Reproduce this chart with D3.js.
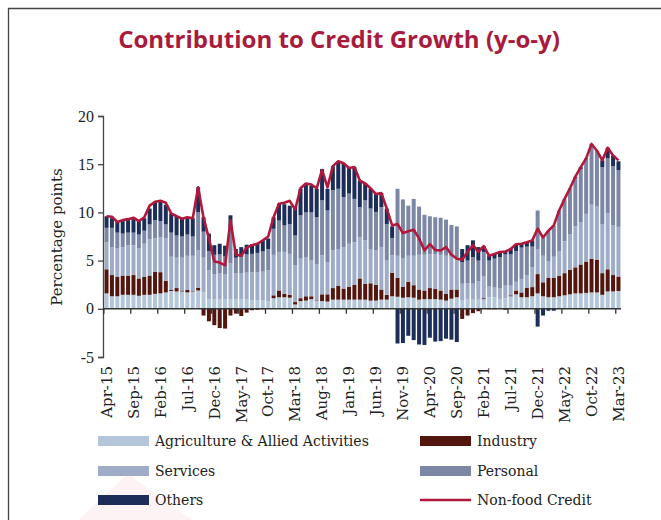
<!DOCTYPE html>
<html>
<head>
<meta charset="utf-8">
<script src="https://cdn.jsdelivr.net/npm/d3@7"></script>
<style>
  body { margin: 0; background: #fff; }
  text { font-family: "DejaVu Serif", serif; fill: #222; }
</style>
</head>
<body>
<svg id="chart"></svg>
<script>
// monthly categories Apr-15 .. Mar-23
const months = d3.timeMonths(new Date(2015, 3, 1), new Date(2023, 3, 1)).map(d3.timeFormat("%b-%y"));
const tickLabels = ["Apr-15", "Sep-15", "Feb-16", "Jul-16", "Dec-16", "May-17", "Oct-17", "Mar-18",
    "Aug-18", "Jan-19", "Jun-19", "Nov-19", "Apr-20", "Sep-20", "Feb-21", "Jul-21",
    "Dec-21", "May-22", "Oct-22", "Mar-23"];

const agriculture = [
    1.6, 1.3, 1.3, 1.45, 1.45, 1.45, 1.35, 1.45, 1.45, 1.55, 1.6, 1.7,
    1.85, 1.8, 1.8, 1.7, 1.8, 1.9, 1.7, 1.0, 1.0, 0.95, 0.95, 1.0,
    1.0, 1.0, 0.95, 0.9, 0.9, 0.85, 0.8, 1.1, 1.2, 1.2, 1.15, 0.45,
    0.8, 0.85, 1.0, 0.85, 0.8, 0.75, 0.95, 0.95, 0.95, 0.95, 0.95, 0.95,
    0.95, 0.85, 0.85, 0.95, 0.95, 1.3, 1.25, 1.15, 1.2, 1.15, 0.95, 1.0,
    1.0, 1.0, 0.95, 0.85, 1.05, 1.2, 0.85, 0.95, 0.95, 0.95, 1.0, 1.2,
    1.2, 1.1, 1.1, 1.3, 1.5, 1.2, 1.2, 1.3, 1.6, 1.3, 1.2, 1.2,
    1.3, 1.4, 1.5, 1.6, 1.6, 1.65, 1.7, 1.7, 1.45, 1.8, 1.8, 1.85];
const industry = [
    2.5, 2.2, 2.0, 2.0, 2.0, 2.05, 1.8, 1.85, 2.0, 2.3, 2.2, 1.2,
    0.1, 0.35, 0.1, 0.25, 0.05, 0.3, -0.7, -1.3, -1.7, -2.0, -2.05, -0.7,
    -0.5, -0.75, -0.4, -0.15, -0.1, -0.05, 0, 0.3, 0.7, 0.35, 0.3, 0.25,
    0.3, 0.45, 0.3, 0.05, 0.7, 0.75, 1.2, 1.45, 1.15, 1.35, 1.55, 2.2,
    1.65, 1.8, 1.65, 1.05, 0.5, 2.45, 1.95, 1.15, 1.6, 1.3, 1.05, 0.9,
    1.15, 1.05, 0.95, 0.7, 0.95, 0.8, -1.05, -0.7, -0.45, -0.25, 0.1, -0.05,
    -0.05, 0.05, -0.1, 0.1, 0.4, 0.5, 1.0, 0.95, 2.0, 1.45, 2.0, 2.0,
    2.1, 2.3, 2.55, 2.7, 3.0, 3.25, 3.5, 3.4, 2.25, 2.3, 1.7, 1.5];
const services = [
    2.8, 2.9, 3.0, 2.95, 3.15, 3.1, 3.15, 3.45, 3.75, 3.45, 3.6, 4.4,
    3.45, 3.15, 3.4, 3.55, 3.65, 3.9, 3.6, 3.0, 2.6, 2.7, 2.6, 3.7,
    2.7, 2.7, 2.8, 2.9, 2.9, 3.0, 3.2, 4.2, 4.0, 4.35, 4.25, 3.8,
    4.1, 4.05, 3.7, 3.75, 4.05, 3.35, 3.9, 3.8, 4.3, 4.45, 4.4, 4.3,
    4.5, 3.55, 3.55, 4.4, 3.55, 1.8, 2.3, 2.9, 2.7, 3.05, 3.6, 3.7,
    3.5, 3.6, 3.7, 3.95, 3.4, 3.3, 1.75, 1.7, 1.65, 1.9, 2.3, 1.1,
    1.0, 1.0, 1.3, 1.0, 0.9, 1.4, 1.3, 2.05, 2.6, 2.75, 1.7, 2.2,
    2.6, 3.3, 3.65, 4.25, 4.4, 4.95, 5.6, 5.5, 5.05, 5.8, 5.15, 5.15];
const personal = [
    1.5, 2.0, 1.6, 1.4, 1.3, 1.3, 1.4, 1.35, 1.55, 1.9, 1.7, 1.45,
    2.5, 2.3, 2.2, 2.2, 2.0, 3.9, 2.7, 2.0, 2.0, 2.0, 1.9, 3.8,
    1.6, 1.7, 1.9, 1.9, 2.0, 2.1, 2.2, 2.7, 3.25, 2.75, 3.1, 3.1,
    4.5, 4.65, 5.0, 4.85, 5.7, 5.35, 6.25, 6.25, 5.2, 5.2, 4.5, 3.1,
    4.15, 4.2, 4.0, 4.15, 3.8, 1.8, 6.95, 6.15, 5.2, 5.9, 5.0, 4.15,
    3.95, 3.85, 3.85, 3.75, 3.3, 3.25, 2.25, 2.35, 2.75, 2.15, 2.5, 2.7,
    3.0, 3.2, 3.25, 3.25, 3.2, 3.25, 2.95, 2.15, 4.0, 1.9, 3.2, 3.2,
    4.2, 4.4, 4.8, 5.05, 5.5, 5.65, 6.2, 5.8, 5.95, 5.7, 6.15, 5.9];
const others = [
    1.2, 1.0, 1.1, 1.3, 1.3, 1.4, 1.4, 1.3, 1.65, 1.9, 2.1, 2.05,
    2.0, 2.0, 1.85, 1.8, 1.9, 2.6, 1.5, 1.8, 1.0, 1.1, 1.1, 1.2,
    0.9, 1.0, 1.0, 1.0, 0.95, 1.1, 1.1, 1.2, 1.75, 2.2, 1.9, 2.95,
    2.75, 3.0, 2.8, 2.95, 3.25, 2.25, 2.5, 2.85, 3.5, 2.75, 3.3, 2.75,
    1.8, 2.05, 1.9, 1.45, 1.6, 1.2, -3.6, -3.55, -2.8, -3.25, -3.7, -3.75,
    -3.0, -3.4, -3.35, -3.1, -3.2, -3.45, 1.35, 1.6, 1.75, 1.4, 0.6, 0.55,
    0.5, 0.55, 0.35, 0.55, 0.7, 0.4, 0.45, 0.65, -1.85, -0.7, -0.2, -0.2,
    0, 0, 0, 0.1, 0.2, 0.1, 0.1, 0, 0.7, 1.1, 1.1, 0.9];
const nonFoodCredit = [
    9.6, 9.55, 9.0, 9.2, 9.3, 9.45, 9.1, 9.5, 10.7, 11.1, 11.2, 11.0,
    9.9, 9.6, 9.35, 9.5, 9.4, 12.6, 9.45, 7.3, 4.9, 4.8, 4.5, 9.2,
    5.6, 5.5, 6.35, 6.6, 6.75, 7.1, 7.5, 9.5, 10.9, 11.0, 11.2, 10.3,
    12.5, 13.0, 12.9, 12.5, 14.4, 12.6, 14.8, 15.3, 15.1, 14.6, 14.7, 13.3,
    13.0, 12.5, 11.9, 12.0, 10.4, 8.65, 8.8, 7.85, 8.05, 8.2, 7.3, 6.05,
    6.7, 6.1, 6.05, 6.4, 5.6, 5.2, 5.1, 5.9, 6.6, 5.9, 6.5, 5.5,
    5.7, 5.9, 5.95, 6.2, 6.7, 6.75, 6.9, 7.1, 8.3, 7.4, 8.1, 8.65,
    10.2, 11.4, 12.5, 13.7, 14.7, 15.6, 17.1, 16.4, 15.4, 16.7, 15.9, 15.4];

const seriesNames = ["Agriculture & Allied Activities", "Industry", "Services", "Personal", "Others"];
const seriesColors = ["#b4c6da", "#52160f", "#9eacc8", "#7c87a5", "#1b2d58"];
const lineName = "Non-food Credit";
const lineColor = "#b0183c";

var width = 661,
    height = 520;

const svg = d3.select("#chart")
    .attr("width", width)
    .attr("height", height);

// faint watermark + frame
svg.append("polygon")
    .attr("points", "78,520 128,474 192,520")
    .attr("fill", "#fdf2f4");

svg.append("path")
    .attr("d", "M8.5,520 V8.5 H661")
    .attr("fill", "none")
    .attr("stroke", "#444")
    .attr("stroke-width", 1.3);

// title
let title = svg.append("text")
    .attr("x", 339)
    .attr("y", 48)
    .attr("text-anchor", "middle")
    .style("font-family", "'Open Sans', sans-serif")
    .style("font-weight", 700)
    .style("font-size", "22px")
    .style("fill", "#a81b3d")
    .text("Contribution to Credit Growth (y-o-y)");
let tw = title.node().getComputedTextLength();
title.style("font-size", (22 * 442 / tw) + "px");

let x = d3.scaleBand()
    .domain(d3.range(months.length))
    .range([104, 621])
    .paddingInner(0.26)
    .paddingOuter(0.1);

let y = d3.scaleLinear()
    .domain([-5, 20])
    .range([357, 116]);

let rows = months.map((m, i) => ({
    k0: agriculture[i], k1: industry[i], k2: services[i], k3: personal[i], k4: others[i]
}));
let keys = ["k0", "k1", "k2", "k3", "k4"];
let stacked = d3.stack().keys(keys).offset(d3.stackOffsetDiverging)(rows);

// bars
svg.append("g")
    .selectAll("g")
    .data(stacked)
    .join("g")
    .attr("fill", (d, i) => seriesColors[i])
    .selectAll("rect")
    .data(d => d)
    .join("rect")
    .attr("x", (d, i) => x(i))
    .attr("width", x.bandwidth())
    .attr("y", d => y(Math.max(d[0], d[1])))
    .attr("height", d => Math.abs(y(d[0]) - y(d[1])));

// y axis
let yAxis = svg.append("g")
    .attr("transform", "translate(103, 0)")
    .call(d3.axisLeft(y).tickValues([-5, 0, 5, 10, 15, 20]).tickSize(5).tickPadding(4)
        .tickFormat(d => String(d)));
yAxis.select(".domain").attr("stroke", "#444").attr("stroke-width", 1.3);
yAxis.selectAll(".tick line").attr("stroke", "#444").attr("stroke-width", 1.3);
yAxis.selectAll("text")
    .style("font-family", "'Liberation Serif', serif")
    .style("font-size", "16px")
    .style("fill", "#222");

// x axis at zero
let x0 = y(0);
svg.append("line")
    .attr("x1", 103).attr("x2", 621)
    .attr("y1", x0).attr("y2", x0)
    .attr("stroke", "#333")
    .attr("stroke-width", 1.5);

let step = x.step();
let tickIdx = tickLabels.map(t => months.indexOf(t));

svg.append("g")
    .selectAll("line")
    .data(tickIdx)
    .join("line")
    .attr("x1", i => x(i) - (step - x.bandwidth()) / 2)
    .attr("x2", i => x(i) - (step - x.bandwidth()) / 2)
    .attr("y1", x0)
    .attr("y2", x0 + 5)
    .attr("stroke", "#333")
    .attr("stroke-width", 1.3);

// non-food credit line
let line = d3.line()
    .x((d, i) => x(i) + x.bandwidth() / 2)
    .y(d => y(d));

svg.append("path")
    .datum(nonFoodCredit)
    .attr("fill", "none")
    .attr("stroke", lineColor)
    .attr("stroke-width", 2.6)
    .attr("stroke-linejoin", "round")
    .attr("d", line);

// x labels
svg.append("g")
    .selectAll("text")
    .data(tickIdx)
    .join("text")
    .attr("transform", i => `translate(${x(i) + x.bandwidth() / 2}, 366) rotate(-90)`)
    .attr("dy", "0.35em")
    .attr("text-anchor", "end")
    .style("font-size", "15px")
    .text((i, k) => tickLabels[k]);

// y label
svg.append("text")
    .attr("transform", "translate(62, 237) rotate(-90)")
    .attr("text-anchor", "middle")
    .style("font-size", "15px")
    .text("Percentage points");

// legend
let legendItems = [
    {name: seriesNames[0], color: seriesColors[0], x: 98, y: 441},
    {name: seriesNames[1], color: seriesColors[1], x: 420, y: 441},
    {name: seriesNames[2], color: seriesColors[2], x: 98, y: 471},
    {name: seriesNames[3], color: seriesColors[3], x: 420, y: 471},
    {name: seriesNames[4], color: seriesColors[4], x: 98, y: 500},
];
let lg = svg.append("g");
legendItems.forEach(d => {
    lg.append("rect")
        .attr("x", d.x).attr("y", d.y - 5)
        .attr("width", 51).attr("height", 10)
        .attr("fill", d.color);
    lg.append("text")
        .attr("x", d.x + 57).attr("y", d.y)
        .attr("dy", "0.35em")
        .style("font-size", "14px")
        .text(d.name);
});
lg.append("line")
    .attr("x1", 420).attr("x2", 471)
    .attr("y1", 500).attr("y2", 500)
    .attr("stroke", lineColor)
    .attr("stroke-width", 2.6);
lg.append("text")
    .attr("x", 477).attr("y", 500)
    .attr("dy", "0.35em")
    .style("font-size", "14px")
    .text(lineName);
</script>
</body>
</html>
